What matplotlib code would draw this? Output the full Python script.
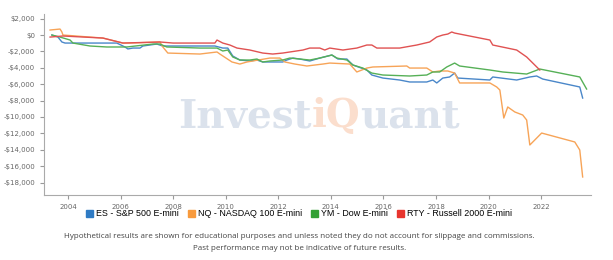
import numpy as np
import matplotlib
matplotlib.use("Agg")
import matplotlib.pyplot as plt
from matplotlib.patches import Patch
from matplotlib.ticker import FuncFormatter

# equity curves (year, cumulative P/L in $)
es_years = [2003.39, 2003.62, 2003.77, 2003.89, 2004.34, 2005.86, 2006.17, 2006.28, 2006.47, 2006.74,
            2006.85, 2007.38, 2007.61, 2009.02, 2009.59, 2009.89, 2010.08, 2010.27, 2010.54, 2010.92,
            2011.19, 2011.41, 2012.17, 2012.33, 2012.56, 2012.82, 2013.20, 2013.58, 2014.04, 2014.27,
            2014.61, 2014.84, 2015.37, 2015.56, 2015.98, 2016.62, 2017.00, 2017.65, 2017.88, 2018.03,
            2018.26, 2018.52, 2018.71, 2018.83, 2020.05, 2020.16, 2021.07, 2021.57, 2021.83, 2022.06,
            2023.47, 2023.58]
es_vals = [0, -250, -850, -980, -980, -980, -1460, -1700, -1590, -1590,
           -1340, -1100, -1340, -1340, -1340, -1590, -1590, -2560, -3050, -3170,
           -3050, -3290, -3290, -3050, -2810, -2930, -3170, -2810, -2440, -2930,
           -2930, -3660, -4270, -4880, -5250, -5490, -5730, -5730, -5490, -5850,
           -5250, -5120, -4640, -5250, -5490, -5120, -5490, -5120, -5000, -5370,
           -6340, -7690]

nq_years = [2003.32, 2003.70, 2003.77, 2003.81, 2005.33, 2006.09, 2006.36, 2007.50, 2007.61, 2007.80,
            2009.02, 2009.67, 2009.78, 2010.24, 2010.54, 2010.81, 2011.68, 2012.06, 2012.25, 2012.63,
            2013.09, 2013.70, 2013.96, 2014.72, 2014.99, 2015.37, 2015.60, 2016.89, 2017.00, 2017.65,
            2017.88, 2018.14, 2018.45, 2018.71, 2018.90, 2020.05, 2020.31, 2020.43, 2020.58, 2020.73,
            2021.00, 2021.30, 2021.45, 2021.57, 2022.02, 2023.28, 2023.47, 2023.58]
nq_vals = [610, 730, 370, 0, -370, -980, -980, -850, -1460, -2200,
           -2320, -2070, -2320, -3290, -3540, -3290, -2810, -2810, -3290, -3540,
           -3780, -3540, -3420, -3540, -4510, -4030, -3900, -3780, -4030, -4030,
           -4510, -4390, -4390, -4640, -5850, -5850, -6340, -6710, -10130, -8780,
           -9390, -9760, -10370, -13420, -11960, -13050, -14030, -17320]

ym_years = [2003.39, 2003.70, 2004.08, 2004.19, 2004.84, 2005.48, 2006.24, 2007.23, 2007.50, 2007.76,
            2009.02, 2009.67, 2009.89, 2010.08, 2010.27, 2010.54, 2010.92, 2011.19, 2011.41, 2011.68,
            2012.17, 2012.44, 2012.82, 2013.20, 2013.58, 2014.04, 2014.23, 2014.61, 2014.84, 2015.22,
            2015.56, 2015.98, 2017.00, 2017.65, 2017.88, 2018.14, 2018.41, 2018.71, 2018.90, 2020.05,
            2020.54, 2021.45, 2021.95, 2023.47, 2023.73]
ym_vals = [0, -250, -610, -980, -1340, -1460, -1460, -1100, -1100, -1460,
           -1590, -1590, -1950, -1830, -2680, -3050, -3050, -2930, -3290, -3170,
           -3050, -2810, -2930, -3050, -2810, -2440, -2810, -3050, -3660, -4030,
           -4640, -4880, -5000, -4880, -4510, -4510, -3900, -3420, -3780, -4270,
           -4510, -4760, -4150, -5120, -6590]

rty_years = [2003.32, 2003.81, 2005.33, 2006.09, 2007.50, 2008.00, 2009.59, 2009.67, 2009.89, 2010.16,
             2010.43, 2010.92, 2011.41, 2011.79, 2012.17, 2012.44, 2012.94, 2013.20, 2013.58, 2013.77,
             2013.96, 2014.46, 2014.99, 2015.37, 2015.56, 2015.75, 2016.62, 2017.27, 2017.76, 2018.03,
             2018.26, 2018.45, 2018.60, 2018.71, 2020.05, 2020.16, 2021.07, 2021.45, 2021.95]
rty_vals = [-250, -120, -370, -980, -850, -980, -980, -610, -980, -1220,
            -1590, -1830, -2200, -2320, -2200, -2070, -1830, -1590, -1590, -1830,
            -1590, -1830, -1590, -1220, -1220, -1590, -1590, -1220, -850, -240,
            0, 120, 370, 240, -610, -1220, -1830, -2680, -4270]

series = [
    ("ES - S&P 500 E-mini", es_years, es_vals, "#4a87c9", "#2f7bc4"),
    ("NQ - NASDAQ 100 E-mini", nq_years, nq_vals, "#f7a458", "#f89a3c"),
    ("YM - Dow E-mini", ym_years, ym_vals, "#56b057", "#33a035"),
    ("RTY - Russell 2000 E-mini", rty_years, rty_vals, "#e05252", "#e8352e"),
]
y_ticks = list(range(-18000, 2001, 2000))
x_ticks = list(range(2004, 2023, 2))


def money(v, pos):
    if v < 0:
        return "-${:,.0f}".format(-v)
    return "${:,.0f}".format(v)


fig = plt.figure(figsize=(6.13, 2.6), dpi=100)
ax = fig.add_axes([0.0718, 0.25, 0.892, 0.696])

for name, xs, ys, col, _ in series:
    ax.plot(xs, ys, color=col, lw=1.0, zorder=3)

ax.set_xlim(2003.09, 2023.89)
ax.set_ylim(-19520, 2560)
ax.set_yticks(y_ticks)
ax.set_xticks(x_ticks)
ax.yaxis.set_major_formatter(FuncFormatter(money))
ax.tick_params(axis="both", colors="#999999", labelcolor="#666666", labelsize=5, length=3, width=0.8)
for s in ["top", "right"]:
    ax.spines[s].set_visible(False)
for s in ["left", "bottom"]:
    ax.spines[s].set_color("#aaaaaa")
    ax.spines[s].set_linewidth(0.8)

# watermark in three colour pieces
fig.canvas.draw()
r = fig.canvas.get_renderer()
x0 = 178 / 613
yb = 1 - 127 / 260
wm_font = dict(family="DejaVu Serif", weight="bold", fontsize=28)
for piece, col in [("Invest", "#dbe2ec"), ("iQ", "#fbdecd"), ("uant", "#dbe2ec")]:
    t = fig.text(x0, yb, piece, color=col, va="baseline", ha="left", zorder=0, **wm_font)
    bb = t.get_window_extent(renderer=r)
    x0 += bb.width / fig.bbox.width

handles = [Patch(facecolor=lc, edgecolor=lc, label=name) for name, _, _, _, lc in series]
fig.legend(handles=handles, loc="center", bbox_to_anchor=(0.488, 1 - 214 / 260), ncol=4,
           frameon=False, handlelength=0.75, handleheight=0.75, handletextpad=0.4,
           columnspacing=1.0, prop={"family": "Liberation Sans", "size": 6.4})

note_font = dict(family="Open Sans", fontsize=5.8, color="#444444", ha="center", va="center")
fig.text(0.488, 1 - 236 / 260,
         "Hypothetical results are shown for educational purposes and unless noted they do not account for slippage and commissions.",
         **note_font)
fig.text(0.488, 1 - 248 / 260, "Past performance may not be indicative of future results.", **note_font)

fig.savefig("out.png", dpi=100)
